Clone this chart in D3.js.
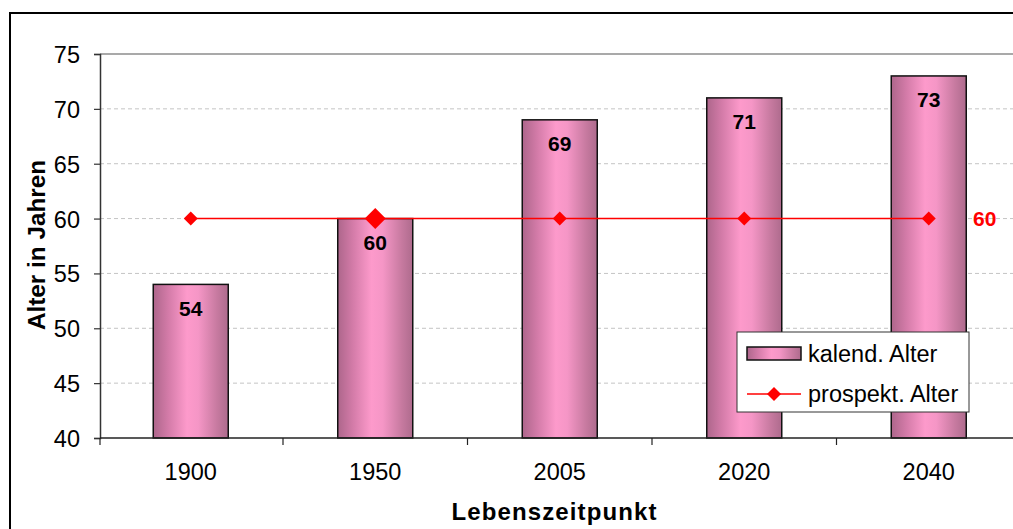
<!DOCTYPE html>
<html>
<head>
<meta charset="utf-8">
<script src="https://cdn.jsdelivr.net/npm/d3@7"></script>
<style>
  html, body { margin: 0; padding: 0; background: #fff; }
  svg { display: block; font-family: "Liberation Sans", Arial, sans-serif; }
</style>
</head>
<body>
<svg id="chart" width="1013" height="529"></svg>
<script>
// ---- data ----
const years = ["1900", "1950", "2005", "2020", "2040"];
const kalendAlter = [54, 60, 69, 71, 73];
const prospektAlter = [60, 60, 60, 60, 60];
const yTicks = [40, 45, 50, 55, 60, 65, 70, 75];
const seriesNames = ["kalend. Alter", "prospekt. Alter"];
const highlightIndex = 1; // enlarged marker at 1950
const yTitle = "Alter in Jahren";
const xTitle = "Lebenszeitpunkt";

// ---- layout ----
const plot = { left: 100, bandLeft: 98.5, right: 1021, top: 54, bottom: 438 };
const svg = d3.select("#chart");

// outer chart border
svg.append("rect")
  .attr("x", 10).attr("y", 13).attr("width", 1030).attr("height", 540)
  .attr("fill", "#fff").attr("stroke", "#000").attr("stroke-width", 2);

// gradient for bars
const defs = svg.append("defs");
const grad = defs.append("linearGradient").attr("id", "barGrad")
  .attr("x1", "0%").attr("x2", "100%").attr("y1", "0%").attr("y2", "0%");
[["0%", "#ad668b"], ["20%", "#d37ba8"], ["45%", "#fd9acb"], ["60%", "#f596c6"], ["85%", "#c77aa0"], ["100%", "#ae6b8d"]]
  .forEach(([o, c]) => grad.append("stop").attr("offset", o).attr("stop-color", c));

// scales
const pad = 1 - 75 / 184.5;
const x = d3.scaleBand().domain(years).range([plot.bandLeft, plot.right])
  .paddingInner(pad).paddingOuter(pad / 2);
const y = d3.scaleLinear().domain([40, 75]).range([plot.bottom, plot.top]);
const step = x.step();

// gridlines (dashed)
svg.append("g").selectAll("line").data(yTicks.filter(t => t > 40 && t < 75)).join("line")
  .attr("x1", plot.left).attr("x2", plot.right)
  .attr("y1", d => y(d)).attr("y2", d => y(d))
  .attr("stroke", "#c4c4c4").attr("stroke-width", 1).attr("stroke-dasharray", "4,3");

// top border of plot area
svg.append("line")
  .attr("x1", plot.left).attr("x2", plot.right)
  .attr("y1", y(75)).attr("y2", y(75))
  .attr("stroke", "#8c8c8c").attr("stroke-width", 1.5);

// bars
svg.append("g").selectAll("rect").data(kalendAlter).join("rect")
  .attr("x", (d, i) => x(years[i]))
  .attr("y", d => y(d))
  .attr("width", x.bandwidth())
  .attr("height", d => y(40) - y(d))
  .attr("fill", "url(#barGrad)")
  .attr("stroke", "#111").attr("stroke-width", 1.5);

// bar labels
svg.append("g").selectAll("text").data(kalendAlter).join("text")
  .attr("x", (d, i) => x(years[i]) + x.bandwidth() / 2)
  .attr("y", d => y(d) + 24)
  .attr("text-anchor", "middle").attr("dominant-baseline", "central")
  .attr("font-size", 21).attr("font-weight", "bold").attr("fill", "#000")
  .text(d => d);

// y axis
const yAxis = d3.axisLeft(y).tickValues(yTicks).tickSize(6).tickPadding(14);
const gy = svg.append("g").attr("transform", `translate(${plot.left},0)`).call(yAxis);
gy.select(".domain").attr("stroke", "#333").attr("stroke-width", 1.5);
gy.selectAll(".tick line").attr("stroke", "#333").attr("stroke-width", 1.2);
gy.selectAll(".tick text").attr("font-size", 23.5).attr("fill", "#000")
  .attr("font-family", "'Liberation Sans', Arial, sans-serif").attr("dy", "0.36em");

// x axis
const gx = svg.append("g").attr("transform", `translate(0,${plot.bottom})`);
gx.append("line").attr("x1", plot.left).attr("x2", plot.right)
  .attr("y1", 0).attr("y2", 0).attr("stroke", "#222").attr("stroke-width", 1.5);
gx.selectAll("line.tk").data(d3.range(years.length + 1)).join("line").attr("class", "tk")
  .attr("x1", i => Math.max(plot.left, plot.bandLeft + i * step))
  .attr("x2", i => Math.max(plot.left, plot.bandLeft + i * step))
  .attr("y1", 0).attr("y2", 7).attr("stroke", "#222").attr("stroke-width", 1.2);
gx.selectAll("text").data(years).join("text")
  .attr("x", d => x(d) + x.bandwidth() / 2).attr("y", 42)
  .attr("text-anchor", "middle").attr("font-size", 23.5).attr("fill", "#000")
  .text(d => d);

// prospekt line
const line = d3.line().x((d, i) => x(years[i]) + x.bandwidth() / 2).y(d => y(d));
svg.append("path").datum(prospektAlter).attr("d", line)
  .attr("fill", "none").attr("stroke", "#ff0000").attr("stroke-width", 1.6);

const diamond = (cx, cy, r) => `M${cx},${cy - r}L${cx + r},${cy}L${cx},${cy + r}L${cx - r},${cy}Z`;
svg.append("g").selectAll("path").data(prospektAlter).join("path")
  .attr("d", (d, i) => diamond(x(years[i]) + x.bandwidth() / 2, y(d), i === highlightIndex ? 10.5 : 7))
  .attr("fill", "#ff0000");

// label for last point
const lastI = prospektAlter.length - 1;
svg.append("text")
  .attr("x", x(years[lastI]) + x.bandwidth() / 2 + 56)
  .attr("y", y(prospektAlter[lastI]))
  .attr("text-anchor", "middle").attr("dominant-baseline", "central")
  .attr("font-size", 21).attr("font-weight", "bold").attr("fill", "#ff0000")
  .text(prospektAlter[lastI]);

// axis titles
svg.append("text")
  .attr("transform", `translate(45,245) rotate(-90)`)
  .attr("text-anchor", "middle").attr("font-size", 24).attr("font-weight", "bold")
  .attr("textLength", 170).attr("lengthAdjust", "spacingAndGlyphs")
  .text(yTitle);
svg.append("text")
  .attr("x", 554).attr("y", 520)
  .attr("text-anchor", "middle").attr("font-size", 24).attr("font-weight", "bold")
  .attr("textLength", 205).attr("lengthAdjust", "spacing")
  .text(xTitle);

// legend
const lg = svg.append("g").attr("transform", "translate(737,332)");
lg.append("rect").attr("x", 0).attr("y", 0).attr("width", 232).attr("height", 80)
  .attr("fill", "#fff").attr("stroke", "#333").attr("stroke-width", 1);
lg.append("rect").attr("x", 10).attr("y", 15).attr("width", 54).attr("height", 13)
  .attr("fill", "url(#barGrad)").attr("stroke", "#111").attr("stroke-width", 1.5);
lg.append("text").attr("x", 71).attr("y", 21.5).attr("dominant-baseline", "central")
  .attr("font-size", 23.5).attr("fill", "#000").text(seriesNames[0]);
lg.append("line").attr("x1", 10).attr("x2", 64).attr("y1", 62).attr("y2", 62)
  .attr("stroke", "#ff0000").attr("stroke-width", 1.6);
lg.append("path").attr("d", diamond(37, 62, 7)).attr("fill", "#ff0000");
lg.append("text").attr("x", 71).attr("y", 62).attr("dominant-baseline", "central")
  .attr("font-size", 23.5).attr("fill", "#000").text(seriesNames[1]);
</script>
</body>
</html>
